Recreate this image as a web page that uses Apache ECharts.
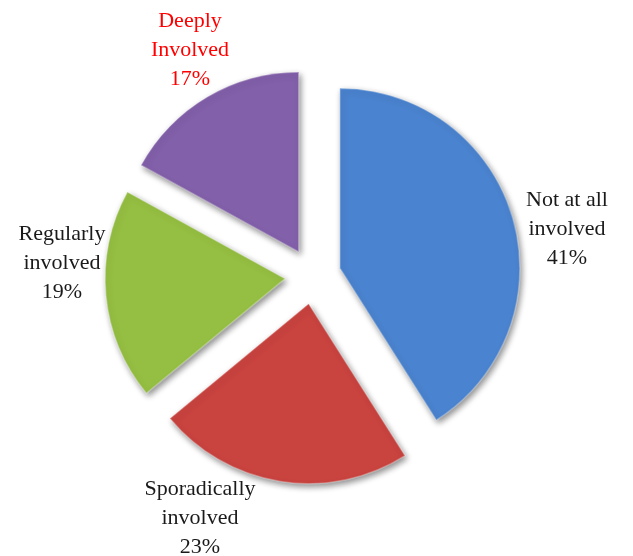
<!DOCTYPE html>
<html>
<head>
<meta charset="utf-8">
<script src="https://cdn.jsdelivr.net/npm/echarts@6/dist/echarts.min.js"></script>
<style>
  html, body { margin: 0; padding: 0; background: #fff; }
  #chart { width: 633px; height: 556px; }
</style>
</head>
<body>
<div id="chart"></div>
<script>
var categories = ['Not at all\ninvolved', 'Sporadically\ninvolved', 'Regularly\ninvolved', 'Deeply\nInvolved'];
var values = [41, 23, 19, 17];
var colors = ['#4a83cf', '#c9433f', '#95bf42', '#8360aa'];

// label centres
var labelPos = [[567, 229], [200, 518], [62, 263], [190, 50]];

var chart = echarts.init(document.getElementById('chart'));

var pieData = [], labels = [];
for (var i = 0; i < categories.length; i++) {
    pieData.push({
        name: categories[i],
        value: values[i],
        selected: true,
        itemStyle: { color: colors[i] }
    });
    labels.push({
        type: 'text',
        x: labelPos[i][0],
        y: labelPos[i][1],
        style: {
            text: categories[i] + '\n' + values[i] + '%',
            fill: i === 3 ? '#ff0000' : '#1a1a1a',
            font: '22px "Liberation Serif", serif',
            lineHeight: 29,
            align: 'center',
            verticalAlign: 'middle'
        }
    });
}

chart.setOption({
    animation: false,
    graphic: labels,
    series: [{
        type: 'pie',
        center: [313, 276],
        radius: 180,
        startAngle: 90,
        clockwise: true,
        selectedMode: 'multiple',
        selectedOffset: 28,
        itemStyle: {
            borderColor: 'rgba(255,255,255,0.3)',
            borderWidth: 1.5,
            shadowBlur: 6,
            shadowOffsetX: 2,
            shadowOffsetY: 3,
            shadowColor: 'rgba(0,0,0,0.45)'
        },
        label: { show: false },
        labelLine: { show: false },
        emphasis: { disabled: true },
        data: pieData
    }]
});
</script>
</body>
</html>
